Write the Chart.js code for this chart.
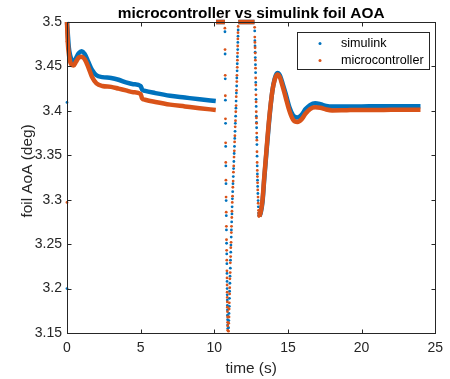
<!DOCTYPE html>
<html>
<head>
<meta charset="utf-8">
<script src="https://cdn.jsdelivr.net/npm/chart.js@4.4.1/dist/chart.umd.min.js"></script>
<style>
  html, body { margin: 0; padding: 0; background: #fff; }
</style>
</head>
<body>
<canvas id="chart" width="450" height="379"></canvas>
<script>
const FONT = "'Liberation Sans', Arial, Helvetica, sans-serif"
const BLUE = "rgb(0, 114, 189)"
const ORANGE = "rgb(217, 83, 25)"
const INK = "#262626"

const seriesNames = ["simulink", "microcontroller"]
const xTicks = [0, 5, 10, 15, 20, 25]
const yTicks = [3.15, 3.2, 3.25, 3.3, 3.35, 3.4, 3.45, 3.5]

// slow part, 0 .. 10.1 s
const simStartT = [0, 0.05, 0.12, 0.22, 0.35, 0.45, 0.6, 0.8, 1.0, 1.2, 1.45, 1.7, 2.0, 2.4, 3.0, 3.5, 4.0, 4.5, 5.0, 5.1, 5.3, 6.0, 7.0, 8.0, 9.0, 10.1]
const simStartV = [3.5, 3.488, 3.472, 3.462, 3.456, 3.455, 3.459, 3.465, 3.467, 3.464, 3.455, 3.446, 3.440, 3.438, 3.437, 3.435, 3.432, 3.430, 3.428, 3.424, 3.4225, 3.420, 3.417, 3.415, 3.413, 3.411]
const mcuStartT = [0, 0.05, 0.15, 0.3, 0.45, 0.6, 0.8, 1.0, 1.2, 1.45, 1.7, 2.0, 2.4, 3.0, 3.5, 4.0, 4.5, 5.0, 5.1, 5.3, 6.0, 7.0, 8.0, 9.0, 10.1]
const mcuStartV = [3.5, 3.478, 3.461, 3.452, 3.451, 3.455, 3.460, 3.461, 3.458, 3.449, 3.438, 3.431, 3.428, 3.427, 3.425, 3.423, 3.421, 3.419, 3.414, 3.4125, 3.410, 3.407, 3.405, 3.403, 3.401]

// saturated at the top limit
const satT = [[10.12, 10.72], [11.63, 12.73]]
const satV = [3.5, 3.5]

// fast drop, fast rise and second drop (sparse samples)
const mcuDropT = [10.72, 10.73, 10.74, 10.75, 10.76, 10.77, 10.78, 10.79, 10.80, 10.81, 10.82, 10.83, 10.84, 10.85, 10.86, 10.865, 10.87, 10.875, 10.88, 10.885, 10.89, 10.895, 10.9, 10.905, 10.91, 10.915]
const mcuDropV = [3.493, 3.469, 3.440, 3.417, 3.391, 3.364, 3.342, 3.322, 3.303, 3.286, 3.270, 3.255, 3.243, 3.232, 3.220, 3.212, 3.204, 3.196, 3.190, 3.185, 3.179, 3.174, 3.168, 3.162, 3.158, 3.153]
const simDropT = [10.725, 10.735, 10.745, 10.755, 10.765, 10.775, 10.785, 10.795, 10.805, 10.815, 10.825, 10.835, 10.845, 10.855, 10.862, 10.868, 10.872, 10.878, 10.883, 10.888, 10.893, 10.898, 10.903, 10.908, 10.913]
const simDropV = [3.489, 3.464, 3.436, 3.412, 3.386, 3.360, 3.338, 3.318, 3.299, 3.282, 3.266, 3.251, 3.239, 3.228, 3.217, 3.208, 3.200, 3.193, 3.187, 3.181, 3.176, 3.170, 3.165, 3.159, 3.155]

const mcuRiseT = [10.96, 10.98, 11.0, 11.01, 11.02, 11.04, 11.05, 11.06, 11.08, 11.09, 11.11, 11.12, 11.14, 11.16, 11.17, 11.19, 11.2, 11.22, 11.24, 11.26, 11.28, 11.3, 11.32, 11.34, 11.36, 11.38, 11.4, 11.42, 11.44, 11.46, 11.48, 11.49, 11.51, 11.53, 11.54, 11.56, 11.57, 11.58, 11.59, 11.6, 11.61, 11.62]
const mcuRiseV = [3.152, 3.161, 3.168, 3.177, 3.184, 3.194, 3.201, 3.211, 3.218, 3.229, 3.236, 3.246, 3.252, 3.263, 3.270, 3.280, 3.287, 3.297, 3.304, 3.314, 3.321, 3.331, 3.338, 3.348, 3.355, 3.365, 3.372, 3.382, 3.389, 3.399, 3.406, 3.416, 3.423, 3.433, 3.440, 3.449, 3.457, 3.465, 3.473, 3.481, 3.488, 3.495]
const simRiseT = [10.97, 10.99, 11.0, 11.02, 11.03, 11.04, 11.06, 11.07, 11.09, 11.1, 11.12, 11.13, 11.15, 11.16, 11.18, 11.2, 11.21, 11.23, 11.25, 11.27, 11.29, 11.31, 11.33, 11.35, 11.37, 11.39, 11.41, 11.43, 11.45, 11.47, 11.48, 11.5, 11.52, 11.53, 11.55, 11.56, 11.57, 11.59, 11.6, 11.61, 11.62]
const simRiseV = [3.156, 3.164, 3.172, 3.180, 3.189, 3.197, 3.206, 3.214, 3.223, 3.232, 3.241, 3.249, 3.258, 3.266, 3.275, 3.284, 3.292, 3.301, 3.309, 3.318, 3.326, 3.335, 3.343, 3.352, 3.360, 3.369, 3.377, 3.386, 3.394, 3.403, 3.411, 3.420, 3.428, 3.437, 3.445, 3.453, 3.461, 3.469, 3.477, 3.484, 3.491]

const mcuDrop2T = [12.74, 12.75, 12.76, 12.77, 12.78, 12.79, 12.8, 12.81, 12.82, 12.83, 12.84, 12.85, 12.86, 12.87, 12.88, 12.89, 12.9, 12.91, 12.92, 12.93, 12.94, 12.95, 12.97, 12.98, 13.0, 13.01, 13.03]
const mcuDrop2V = [3.494, 3.483, 3.477, 3.471, 3.465, 3.457, 3.448, 3.437, 3.429, 3.418, 3.410, 3.399, 3.392, 3.386, 3.375, 3.367, 3.354, 3.342, 3.333, 3.326, 3.319, 3.311, 3.303, 3.296, 3.288, 3.285, 3.281]
const simDrop2T = [12.745, 12.755, 12.765, 12.775, 12.785, 12.795, 12.805, 12.815, 12.825, 12.835, 12.845, 12.855, 12.865, 12.875, 12.885, 12.895, 12.905, 12.915, 12.925, 12.935, 12.945, 12.96, 12.975, 12.99, 13.005, 13.02]
const simDrop2V = [3.490, 3.479, 3.473, 3.466, 3.460, 3.452, 3.443, 3.432, 3.424, 3.413, 3.405, 3.394, 3.387, 3.381, 3.370, 3.362, 3.349, 3.338, 3.329, 3.322, 3.315, 3.307, 3.299, 3.292, 3.285, 3.282]

// odd samples at t = 0
const simFirstT = [0, 0, 0]
const simFirstV = [3.491, 3.4095, 3.2]
const mcuFirstT = [0, 0]
const mcuFirstV = [3.478, 3.297]

// recovery, 13 .. 24 s
const simEndT = [13.06, 13.15, 13.27, 13.4, 13.5, 13.72, 13.94, 14.1, 14.28, 14.45, 14.65, 14.85, 15.1, 15.35, 15.65, 15.95, 16.2, 16.5, 16.85, 17.2, 17.6, 18.0, 19.0, 20.0, 21.0, 22.0, 23.0, 24.0]
const simEndV = [3.2817, 3.285, 3.297, 3.325, 3.345, 3.388, 3.422, 3.436, 3.4425, 3.440, 3.430, 3.419, 3.404, 3.395, 3.3925, 3.396, 3.402, 3.4065, 3.4085, 3.4075, 3.4055, 3.4048, 3.405, 3.405, 3.4052, 3.4052, 3.4053, 3.4053]
const mcuEndT = [13.05, 13.15, 13.27, 13.4, 13.5, 13.72, 13.94, 14.1, 14.28, 14.45, 14.65, 14.85, 15.1, 15.35, 15.65, 15.95, 16.2, 16.5, 16.85, 17.2, 17.6, 18.0, 19.0, 20.0, 21.0, 22.0, 23.0, 24.0]
const mcuEndV = [3.281, 3.286, 3.299, 3.327, 3.347, 3.390, 3.422, 3.435, 3.441, 3.438, 3.427, 3.415, 3.400, 3.390, 3.3875, 3.391, 3.397, 3.402, 3.404, 3.4035, 3.4015, 3.4005, 3.4008, 3.401, 3.401, 3.4012, 3.4012, 3.4012]

function pts(ts, vs) {
    return ts.map((t, i) => ({ x: t, y: vs[i] }))
}
// several pieces in one trace, broken by gaps
function pieces(list) {
    const out = []
    list.forEach((p, i) => {
        if (i > 0) out.push({ x: p[0].x, y: null })
        out.push(...p)
    })
    return out
}

const simTrace = pieces([pts(simStartT, simStartV), pts(satT[0], satV), pts(satT[1], satV), pts(simEndT, simEndV)])
const mcuTrace = pieces([pts(mcuStartT, mcuStartV), pts(satT[0], satV), pts(satT[1], satV), pts(mcuEndT, mcuEndV)])
const simDots = [].concat(pts(simFirstT, simFirstV), pts(simDropT, simDropV), pts(simRiseT, simRiseV), pts(simDrop2T, simDrop2V))
const mcuDots = [].concat(pts(mcuFirstT, mcuFirstV), pts(mcuDropT, mcuDropV), pts(mcuRiseT, mcuRiseV), pts(mcuDrop2T, mcuDrop2V))

const traceStyle = (color, order) => ({
    showLine: true,
    borderColor: color,
    backgroundColor: color,
    borderWidth: 4.5,
    pointRadius: 0,
    spanGaps: false,
    cubicInterpolationMode: "monotone",
    clip: 4,
    order: order,
})
const dotStyle = (color, order) => ({
    showLine: false,
    backgroundColor: color,
    borderWidth: 0,
    pointRadius: 1.4,
    clip: 4,
    order: order,
})

// box, inward ticks, title, y label and legend the way MATLAB draws them
const matlabLook = {
    id: "matlabLook",
    afterDatasetsDraw(chart) {
        const ctx = chart.ctx
        const a = chart.chartArea
        const sx = chart.scales.x, sy = chart.scales.y
        const L = Math.round(a.left) + 0.5, R = Math.round(a.right) + 0.5
        const T = Math.round(a.top) + 0.5, B = Math.round(a.bottom) + 0.5
        ctx.save()
        ctx.strokeStyle = INK
        ctx.lineWidth = 1
        ctx.strokeRect(L, T, R - L, B - T)
        ctx.beginPath()
        xTicks.forEach(v => {
            const px = Math.round(sx.getPixelForValue(v)) + 0.5
            ctx.moveTo(px, B); ctx.lineTo(px, B - 4)
            ctx.moveTo(px, T); ctx.lineTo(px, T + 4)
        })
        yTicks.forEach(v => {
            const py = Math.round(sy.getPixelForValue(v)) + 0.5
            ctx.moveTo(L, py); ctx.lineTo(L + 4, py)
            ctx.moveTo(R, py); ctx.lineTo(R - 4, py)
        })
        ctx.stroke()

        // title
        ctx.fillStyle = "#000"
        ctx.font = "bold 15.4px " + FONT
        ctx.textAlign = "center"
        ctx.textBaseline = "alphabetic"
        ctx.fillText("microcontroller vs simulink foil AOA", (a.left + a.right) / 2, 17.5)

        // y label
        ctx.save()
        ctx.translate(32, 171)
        ctx.rotate(-Math.PI / 2)
        ctx.fillStyle = INK
        ctx.font = "15.4px " + FONT
        ctx.textBaseline = "alphabetic"
        ctx.fillText("foil AoA (deg)", 0, 0)
        ctx.restore()

        // legend
        const bx = 297.5, by = 32.5, bw = 132, bh = 37
        ctx.fillStyle = "#fff"
        ctx.fillRect(bx, by, bw, bh)
        ctx.strokeStyle = INK
        ctx.strokeRect(bx, by, bw, bh)
        const colors = [BLUE, ORANGE]
        ctx.font = "12.6px " + FONT
        ctx.textAlign = "left"
        ctx.textBaseline = "middle"
        seriesNames.forEach((name, i) => {
            const y = 43.5 + i * 17
            ctx.fillStyle = colors[i]
            ctx.beginPath()
            ctx.arc(320, y, 1.5, 0, Math.PI * 2)
            ctx.fill()
            ctx.fillStyle = "#000"
            ctx.fillText(name, 341, y + 0.5)
        })
        ctx.restore()
    }
}

const chart = new Chart(document.getElementById("chart").getContext("2d"), {
    type: "scatter",
    data: {
        datasets: [
            { label: seriesNames[0], data: simTrace, ...traceStyle(BLUE, 4) },
            { label: seriesNames[0], data: simDots, ...dotStyle(BLUE, 3) },
            { label: seriesNames[1], data: mcuTrace, ...traceStyle(ORANGE, 2) },
            { label: seriesNames[1], data: mcuDots, ...dotStyle(ORANGE, 1) },
        ]
    },
    options: {
        responsive: false,
        animation: false,
        devicePixelRatio: 1,
        layout: { padding: { top: 22, right: 10, left: 0, bottom: 0 } },
        plugins: {
            legend: { display: false },
            title: { display: false },
            tooltip: { enabled: false },
        },
        scales: {
            x: {
                type: "linear",
                min: 0,
                max: 25,
                afterBuildTicks: s => { s.ticks = xTicks.map(v => ({ value: v })) },
                afterFit: s => { s.height = 46 },
                grid: { display: false, drawTicks: false },
                border: { display: false },
                ticks: {
                    color: INK,
                    padding: 7,
                    maxRotation: 0,
                    font: { family: FONT, size: 14 },
                    callback: v => String(v),
                },
                title: {
                    display: true,
                    text: "time (s)",
                    color: INK,
                    font: { family: FONT, size: 15.4 },
                    padding: { top: 0, bottom: 1 },
                },
            },
            y: {
                type: "linear",
                min: 3.15,
                max: 3.5,
                afterBuildTicks: s => { s.ticks = yTicks.map(v => ({ value: v })) },
                afterFit: s => { s.width = 67 },
                grid: { display: false, drawTicks: false },
                border: { display: false },
                ticks: {
                    color: INK,
                    padding: 5,
                    font: { family: FONT, size: 14 },
                    callback: v => String(+v.toFixed(2)),
                },
            },
        },
    },
    plugins: [matlabLook],
})
</script>
</body>
</html>
